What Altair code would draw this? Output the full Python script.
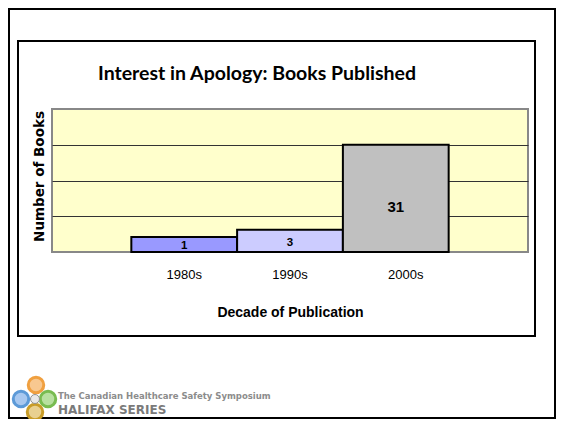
import altair as alt
import pandas as pd

# ---- data ----
decades = ["1980s", "1990s", "2000s"]
book_counts = [1, 3, 31]                 # value labels printed in the bars
bar_heights = [4.2, 6.2, 30.0]           # drawn bar heights, in gridline units (gridlines every 10)
bar_colors = ["#9999FF", "#CCCCFF", "#C0C0C0"]
grid_values = [10, 20, 30]

title_text = "Interest in Apology: Books Published"
y_title = "Number of Books"
x_title = "Decade of Publication"
logo_line1 = "The Canadian Healthcare Safety Symposium"
logo_line2 = "HALIFAX SERIES"

df = pd.DataFrame({"decade": decades, "count": book_counts, "height": bar_heights})
one = pd.DataFrame({"k": [0]})

W, H = 476, 143

x_axis = alt.Axis(
    title=x_title, labelAngle=0, ticks=False, tickSize=0, domain=False, grid=False,
    labelPadding=16, labelFont="Liberation Sans", labelFontSize=13, labelColor="black",
    labelOffset={"condition": {"test": "datum.value == '2000s'", "value": 10}, "value": 0},
    titleFont="Liberation Sans", titleFontSize=14, titleFontWeight="bold", titleColor="black",
    titleX=W / 2, titleY=60, titleBaseline="middle", titleAlign="center",
)
y_axis = alt.Axis(
    title=y_title, values=grid_values, labels=False, ticks=False, domain=False, grid=True,
    gridColor="#333333", gridWidth=1,
    titleFont="DejaVu Sans", titleFontSize=13.5, titleFontWeight="bold", titleColor="black",
    titleAngle=270, titleX=-13, titleY=67, titleBaseline="middle", titleAlign="center",
)
x_scale = alt.Scale(paddingInner=0, paddingOuter=0.75)
y_scale = alt.Scale(domain=[0, 40], nice=False, zero=True)

bars = alt.Chart(df).mark_bar(stroke="black", strokeWidth=2).encode(
    x=alt.X("decade:N", sort=decades, scale=x_scale, axis=x_axis),
    y=alt.Y("height:Q", scale=y_scale, axis=y_axis),
    color=alt.Color("decade:N", scale=alt.Scale(domain=decades, range=bar_colors), legend=None),
)

labels = alt.Chart(df).transform_calculate(mid="datum.height * 0.42").mark_text(
    font="Liberation Sans", fontWeight="bold", color="black", baseline="middle", align="center"
).encode(
    x=alt.X("decade:N", sort=decades, scale=x_scale, axis=x_axis),
    y=alt.Y("mid:Q", scale=y_scale, axis=y_axis),
    text=alt.Text("count:Q"),
    size=alt.condition("datum.count > 10", alt.value(15), alt.value(11.5)),
)

title = alt.Chart(one).mark_text(
    text=title_text, font="Lato", fontSize=19.5, fontWeight="bold", color="black",
    align="center", baseline="alphabetic",
).encode(x=alt.value(205), y=alt.value(-29))

inner_box = alt.Chart(one).mark_rect(fillOpacity=0, stroke="black", strokeWidth=2).encode(
    x=alt.value(-34), x2=alt.value(483), y=alt.value(-68), y2=alt.value(227)
)
outer_box = alt.Chart(one).mark_rect(fillOpacity=0, stroke="black", strokeWidth=2).encode(
    x=alt.value(-43), x2=alt.value(503), y=alt.value(-100), y2=alt.value(309)
)

logo_layers = []
for cx, cy, fill, stroke in [
    (-16, 276, "#F8C890", "#F0A040"),
    (-31, 290, "#A8C8F0", "#5C9AD8"),
    (-4, 290, "#B8E0A0", "#78BC50"),
    (-17, 303, "#E8D090", "#C89C28"),
]:
    logo_layers.append(
        alt.Chart(one).mark_point(shape="circle", filled=True, size=240, fill=fill, stroke=stroke,
                                  strokeWidth=3, opacity=1).encode(x=alt.value(cx), y=alt.value(cy))
    )
logo_layers.append(
    alt.Chart(one).mark_point(shape="circle", filled=True, size=80, fill="#E8E8E8", stroke="#909090",
                              strokeWidth=1, opacity=1).encode(x=alt.value(-17), y=alt.value(290))
)
logo_text1 = alt.Chart(one).mark_text(
    text=logo_line1, font="DejaVu Sans", fontSize=8.5, fontWeight="bold", color="#8C8C8C",
    align="left", baseline="middle",
).encode(x=alt.value(6), y=alt.value(287))
logo_text2 = alt.Chart(one).mark_text(
    text=logo_line2, font="DejaVu Sans", fontSize=12, fontWeight="bold", color="#7A7A7A",
    align="left", baseline="middle",
).encode(x=alt.value(6), y=alt.value(301))

chart = alt.layer(
    bars, labels, title, inner_box, outer_box, *logo_layers, logo_text1, logo_text2
).properties(
    width=W, height=H,
    autosize=alt.AutoSizeParams(type="none"),
    padding={"left": 44, "top": 101, "right": 28, "bottom": 167},
    background="white",
).configure_view(fill="#FFFFCC", stroke="#888888", strokeWidth=2)

chart.save("out.html", embed_options={"renderer": "svg", "actions": False})
